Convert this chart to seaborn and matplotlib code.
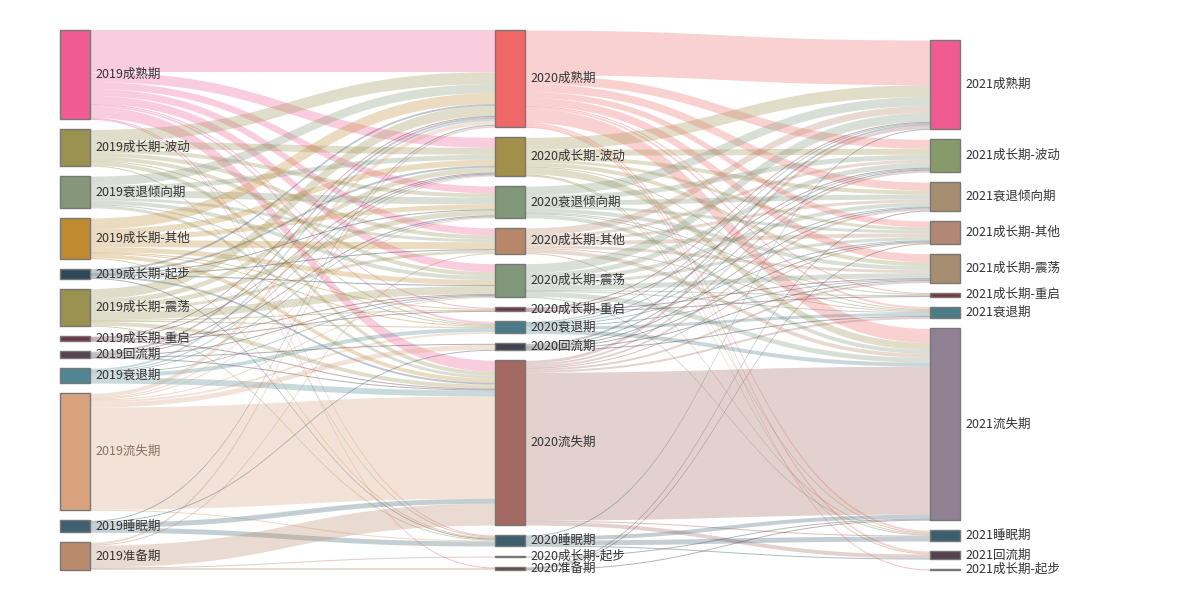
import numpy as np
import pandas as pd
import seaborn as sns
import matplotlib
matplotlib.use("Agg")
import matplotlib.pyplot as plt

nodes_2019 = ["2019成熟期", "2019成长期-波动", "2019衰退倾向期", "2019成长期-其他", "2019成长期-起步",
              "2019成长期-震荡", "2019成长期-重启", "2019回流期", "2019衰退期", "2019流失期",
              "2019睡眠期", "2019准备期"]
colors_2019 = ["#ef5b92", "#9b9150", "#869779", "#c08a30", "#2f4858", "#9b9150",
               "#6e3846", "#55434d", "#4f8691", "#d8a27e", "#3e6070", "#b98a6c"]

nodes_2020 = ["2020成熟期", "2020成长期-波动", "2020衰退倾向期", "2020成长期-其他", "2020成长期-震荡",
              "2020成长期-重启", "2020衰退期", "2020回流期", "2020流失期", "2020睡眠期",
              "2020成长期-起步", "2020准备期"]
colors_2020 = ["#f06767", "#a18f4a", "#809779", "#b68769", "#809779", "#6e3846",
               "#4a7b86", "#43434f", "#a46962", "#3d5e6e", "#555555", "#5e4a4a"]

nodes_2021 = ["2021成熟期", "2021成长期-波动", "2021衰退倾向期", "2021成长期-其他", "2021成长期-震荡",
              "2021成长期-重启", "2021衰退期", "2021流失期", "2021睡眠期", "2021回流期",
              "2021成长期-起步"]
colors_2021 = ["#ef5b8f", "#879a6b", "#a88e70", "#b28776", "#a88e70", "#7b3a40",
               "#4b7c86", "#8f8192", "#3d5e6e", "#55414b", "#777777"]

# rows: 2019 stages, columns: 2020 stages
flows_2019_2020 = [
    [42, 10, 7, 7, 8, 1, 2, 0, 11, 1, 0, 1],
    [12, 7, 4, 4, 4, 0, 1, 0, 4, 1, 0, 0],
    [9, 5, 7, 3, 4, 0, 1, 0, 3, 0, 0, 0],
    [11, 6, 5, 7, 5, 1, 1, 0, 4, 1, 0, 0],
    [2, 2, 1, 1, 1, 0, 0, 0, 2, 1, 0, 0],
    [10, 5, 5, 3, 8, 1, 1, 0, 4, 1, 0, 0],
    [1, 1, 0, 0, 1, 1, 0, 0, 1, 0, 0, 0],
    [2, 1, 1, 0, 1, 0, 0, 1, 1, 0, 0, 0],
    [2, 1, 1, 0, 1, 0, 4, 0, 6, 0, 0, 0],
    [4, 1, 1, 0, 1, 0, 2, 5, 103, 1, 0, 0],
    [1, 0, 0, 0, 0, 0, 0, 1, 5, 5, 0, 0],
    [2, 0, 0, 1, 0, 0, 0, 0, 22, 0, 1, 2],
]

# rows: 2020 stages, columns: 2021 stages
flows_2020_2021 = [
    [45, 9, 8, 6, 8, 1, 2, 14, 2, 2, 1],
    [12, 6, 4, 3, 4, 0, 1, 7, 1, 1, 0],
    [9, 5, 5, 3, 4, 1, 1, 4, 0, 0, 0],
    [7, 3, 3, 4, 3, 0, 1, 4, 1, 0, 0],
    [9, 5, 4, 3, 5, 1, 1, 5, 1, 0, 0],
    [1, 1, 0, 0, 1, 1, 0, 0, 0, 0, 0],
    [1, 1, 1, 1, 1, 0, 3, 4, 0, 0, 0],
    [2, 1, 1, 1, 1, 0, 1, 0, 0, 0, 0],
    [3, 2, 2, 1, 2, 0, 2, 149, 1, 4, 0],
    [1, 0, 0, 0, 0, 0, 0, 4, 5, 1, 0],
    [0, 0, 0, 0, 0, 0, 0, 1, 0, 0, 0],
    [0, 0, 1, 1, 0, 0, 0, 1, 0, 0, 0],
]

muted_labels = ["2019流失期"]

sns.set_theme(style="white")
plt.rcParams["font.family"] = ["Noto Sans CJK SC", "DejaVu Sans"]

# layout settings (pixels)
top, bottom, gap, node_w = 30, 570, 10, 30
col_left = [60, 495, 930]

m1 = np.array(flows_2019_2020)
m2 = np.array(flows_2020_2021)
values = [m1.sum(axis=1), np.maximum(m1.sum(axis=0), m2.sum(axis=1)), m2.sum(axis=0)]
names = [nodes_2019, nodes_2020, nodes_2021]
colors = [colors_2019, colors_2020, colors_2021]

ky = min((bottom - top - gap * (len(v) - 1)) / v.sum() for v in values)


def stack_column(vals):
    heights = vals * ky
    y = bottom - heights.sum() - gap * (len(vals) - 1)
    ys = []
    for h in heights:
        ys.append(y)
        y += h + gap
    return np.array(ys), heights


positions = [stack_column(v) for v in values]

fig = plt.figure(figsize=(12, 6), dpi=100)
ax = fig.add_axes([0, 0, 1, 1])
ax.set_xlim(0, 1200)
ax.set_ylim(600, 0)
ax.axis("off")

t = np.linspace(0, 1, 80)


def bezier(a, b, c, d):
    return (1 - t) ** 3 * a + 3 * (1 - t) ** 2 * t * b + 3 * (1 - t) * t ** 2 * c + t ** 3 * d


for stage, m in enumerate([m1, m2]):
    links = pd.DataFrame(m, index=range(m.shape[0]), columns=range(m.shape[1])).stack().reset_index()
    links.columns = ["source", "target", "value"]
    links = links[links["value"] > 0].copy()
    links["h"] = links["value"] * ky
    links["s_off"] = links.groupby("source")["h"].cumsum() - links["h"]
    links["t_off"] = links.groupby("target")["h"].cumsum() - links["h"]

    sy, _ = positions[stage]
    ty, _ = positions[stage + 1]
    x0 = col_left[stage] + node_w
    x1 = col_left[stage + 1]
    xm = (x0 + x1) / 2
    xs = bezier(x0, xm, xm, x1)
    for _, row in links.iterrows():
        s, g, h = int(row["source"]), int(row["target"]), row["h"]
        y_top = bezier(sy[s] + row["s_off"], sy[s] + row["s_off"], ty[g] + row["t_off"], ty[g] + row["t_off"])
        y_bot = y_top + h
        a = 0.42 if h < 1.5 else 0.3
        ax.fill_between(xs, y_top, y_bot, color=colors[stage][s], alpha=a, lw=0, zorder=1)

for c in range(3):
    ys, hs = positions[c]
    ax.bar([col_left[c] + node_w / 2] * len(ys), hs, bottom=ys, width=node_w,
           color=colors[c], edgecolor="#777777", linewidth=1, zorder=3)
    for name, y, h in zip(names[c], ys, hs):
        ax.text(col_left[c] + node_w + 5, y + h / 2, name, fontsize=9,
                color="#8a7266" if name in muted_labels else "#333333",
                va="center", ha="left", zorder=4)

fig.savefig("out.png", dpi=100)
